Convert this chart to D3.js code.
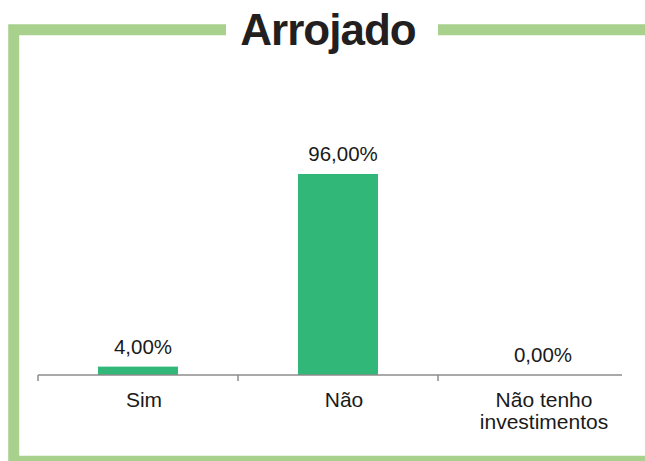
<!DOCTYPE html>
<html>
<head>
<meta charset="utf-8">
<script src="https://cdn.jsdelivr.net/npm/d3@7"></script>
<style>
  body { margin: 0; background: #fff; }
  svg { display: block; font-family: "Liberation Sans", Arial, sans-serif; }
</style>
</head>
<body>
<svg id="chart" width="645" height="461"></svg>
<script>
const title = 'Arrojado';
const categories = ['Sim', 'Não', 'Não tenho investimentos'];
const values = [4.0, 96.0, 0.0];
const labelLines = [['Sim'], ['Não'], ['Não tenho', 'investimentos']];

const svg = d3.select('#chart');
const frameColor = '#a9d18e';
const barColor = '#31b777';

// frame, open around the title
svg.append('path')
    .attr('d', 'M226,29.7H13.7V461.2H660')
    .attr('fill', 'none')
    .attr('stroke', frameColor)
    .attr('stroke-width', 11);
svg.append('path')
    .attr('d', 'M438,29.7H660')
    .attr('fill', 'none')
    .attr('stroke', frameColor)
    .attr('stroke-width', 11);

svg.append('text')
    .attr('x', 328)
    .attr('y', 45)
    .attr('text-anchor', 'middle')
    .attr('font-size', 44)
    .attr('font-weight', 'bold')
    .attr('letter-spacing', -1)
    .attr('fill', '#231f20')
    .text(title);

const x = d3.scaleBand()
    .domain(categories)
    .range([38, 638])
    .paddingInner(0.6)
    .paddingOuter(0.3);

const y = d3.scaleLinear().domain([0, 100]).range([375, 165.6]);

// bars
svg.selectAll('rect.bar')
    .data(values)
    .join('rect')
    .attr('class', 'bar')
    .attr('x', (d, i) => x(categories[i]))
    .attr('width', x.bandwidth())
    .attr('y', d => y(d))
    .attr('height', d => y(0) - y(d))
    .attr('fill', barColor);

// axis line with ticks at band edges
const axis = svg.append('g').attr('stroke', '#8c8c8c').attr('stroke-width', 1.5);
axis.append('line')
    .attr('x1', 38).attr('x2', 622)
    .attr('y1', y(0)).attr('y2', y(0));
const step = x.step();
axis.selectAll('line.tick')
    .data([0, 1, 2])
    .join('line')
    .attr('class', 'tick')
    .attr('x1', i => 38 + i * step)
    .attr('x2', i => 38 + i * step)
    .attr('y1', y(0))
    .attr('y2', y(0) + 6);

// value labels
svg.selectAll('text.value')
    .data(values)
    .join('text')
    .attr('class', 'value')
    .attr('x', (d, i) => x(categories[i]) + x.bandwidth() / 2 + 5)
    .attr('y', d => y(d) - 13)
    .attr('text-anchor', 'middle')
    .attr('font-size', 20.5)
    .attr('fill', '#1a1a1a')
    .text(d => d3.format('.2f')(d).replace('.', ',') + '%');

// category labels
const cat = svg.selectAll('text.cat')
    .data(labelLines)
    .join('text')
    .attr('class', 'cat')
    .attr('text-anchor', 'middle')
    .attr('font-size', 21)
    .attr('fill', '#1a1a1a');
cat.selectAll('tspan')
    .data((d, i) => d.map(t => ({t, i})))
    .join('tspan')
    .attr('x', d => x(categories[d.i]) + x.bandwidth() / 2 + 6)
    .attr('y', (d, j) => 407 + j * 22)
    .text(d => d.t);
</script>
</body>
</html>
